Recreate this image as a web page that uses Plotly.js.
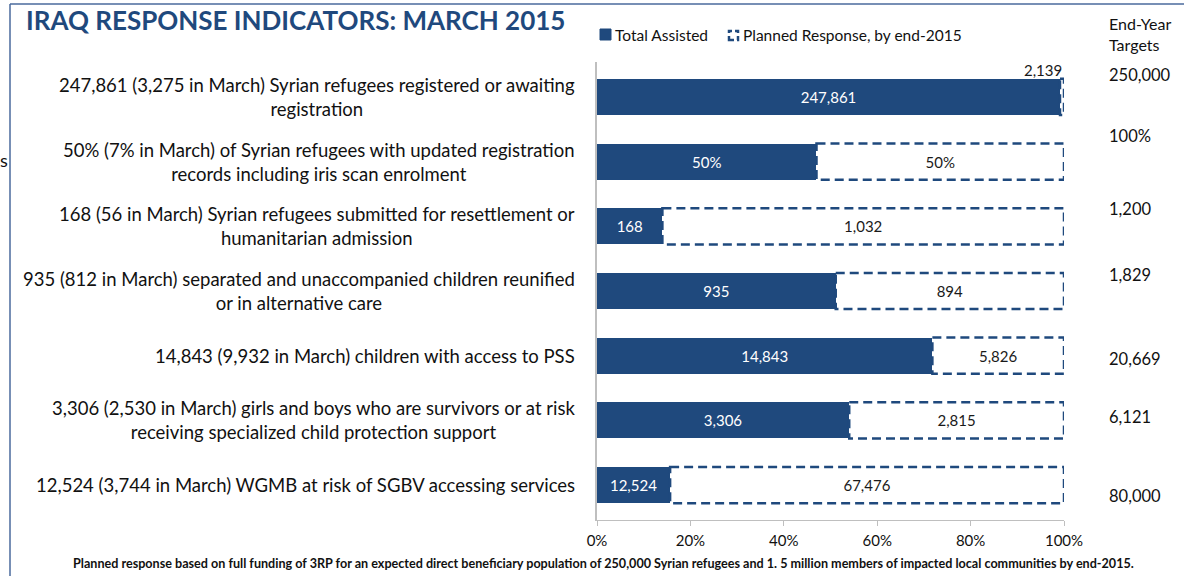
<!DOCTYPE html>
<html>
<head>
<meta charset="utf-8">
<script src="https://cdn.plot.ly/plotly-3.0.1.min.js"></script>
<style>html,body{margin:0;padding:0;background:#fff;}#chart{width:1184px;height:576px;}</style>
</head>
<body>
<div id="chart"></div>
<script>
// ---- data ----
var indicators = [
  "247,861 (3,275 in March) Syrian refugees registered or awaiting<br>registration",
  "50% (7% in March) of Syrian refugees with updated registration<br>records including iris scan enrolment",
  "168 (56 in March) Syrian refugees submitted for resettlement or<br>humanitarian admission",
  "935 (812 in March) separated and unaccompanied children reunified<br>or in alternative care",
  "14,843 (9,932 in March) children with access to PSS",
  "3,306 (2,530 in March) girls and boys who are survivors or at risk<br>receiving specialized child protection support",
  "12,524 (3,744 in March) WGMB at risk of SGBV accessing services"
];
var assistedVals = [247861, 47, 168, 935, 14843, 3306, 12524];
var remainingVals = [2139, 53, 1032, 894, 5826, 2815, 67476];
var assistedLabels = ["247,861", "50%", "168", "935", "14,843", "3,306", "12,524"];
var remainingLabels = ["2,139", "50%", "1,032", "894", "5,826", "2,815", "67,476"];
var targetLabels = ["250,000", "100%", "1,200", "1,829", "20,669", "6,121", "80,000"];
var xTickVals = [0, 20, 40, 60, 80, 100];
var xTickText = ["0%", "20%", "40%", "60%", "80%", "100%"];

// ---- styling / layout helpers ----
var BLUE = "#1f497d";
var FONT = "Lato, 'Liberation Sans', sans-serif";
var L = 597, R = 1064, T = 62, B = 520;
function px(x){ return (x - L) / (R - L); }
function py(y){ return (B - y) / (B - T); }

var idx = assistedVals.map(function(_, i){ return i; });
var pctA = assistedVals.map(function(a, i){ return 100 * a / (a + remainingVals[i]); });
var pctR = remainingVals.map(function(r, i){ return 100 * r / (assistedVals[i] + r); });
var halfW = 0.28;

var traces = [
  {
    type: "bar", orientation: "h", y: idx, x: pctA, width: 2 * halfW,
    marker: {color: BLUE, line: {width: 0}},
    text: assistedLabels, textposition: "inside", insidetextanchor: "middle",
    textfont: {family: FONT, size: 15, color: "#ffffff"},
    hoverinfo: "skip", showlegend: false
  },
  {
    type: "bar", orientation: "h", y: idx, x: pctR, width: 2 * halfW,
    marker: {color: "#ffffff", line: {width: 0}},
    text: remainingLabels.map(function(t, i){ return pctR[i] < 5 ? "" : t; }),
    textposition: "inside", insidetextanchor: "middle",
    textfont: {family: FONT, size: 15, color: "#1a1a1a"},
    hoverinfo: "skip", showlegend: false
  }
];

var shapes = [];
idx.forEach(function(i){
  shapes.push({
    type: "rect", xref: "x", yref: "y", layer: "above",
    x0: pctA[i], x1: 100, y0: i - halfW, y1: i + halfW,
    line: {color: BLUE, width: 2.5, dash: "9px,5px"}, fillcolor: "rgba(0,0,0,0)"
  });
});
// frame lines
shapes.push({type: "line", xref: "paper", yref: "paper", x0: px(10), x1: px(1184), y0: py(4), y1: py(4), line: {color: "#4a6a9c", width: 1.5}});
shapes.push({type: "line", xref: "paper", yref: "paper", x0: px(10), x1: px(10), y0: py(4), y1: py(576), line: {color: "#4a6a9c", width: 1.5}});
// legend icons
shapes.push({type: "rect", xref: "paper", yref: "paper", x0: px(600), x1: px(611), y0: py(40), y1: py(29), fillcolor: BLUE, line: {color: BLUE, width: 1}});
shapes.push({type: "rect", xref: "paper", yref: "paper", x0: px(729), x1: px(738), y0: py(40), y1: py(31), fillcolor: "#fff", line: {color: BLUE, width: 2.5, dash: "5px,3px"}});

var annotations = [];
idx.forEach(function(i){
  annotations.push({
    xref: "paper", yref: "y", x: px(577), y: i, xanchor: "right", yanchor: "middle",
    align: "center", text: indicators[i], showarrow: false,
    font: {family: FONT, size: 18.5, color: "#111"}
  });
});
// small outside label for tiny remaining segment
idx.forEach(function(i){
  if (pctR[i] < 5) {
    annotations.push({
      xref: "x", yref: "y", x: 100, y: i - halfW, xanchor: "right", yanchor: "bottom",
      text: remainingLabels[i], showarrow: false, yshift: -2,
      font: {family: FONT, size: 15, color: "#1a1a1a"}
    });
  }
});
// End-year targets
var targetShift = [22, 26, 17, 16, -3, 3, -11];
idx.forEach(function(i){
  annotations.push({
    xref: "paper", yref: "y", x: px(1107), y: i, xanchor: "left", yanchor: "middle",
    text: targetLabels[i], showarrow: false, yshift: targetShift[i],
    font: {family: FONT, size: 16.5, color: "#111"}
  });
});
annotations.push({
  xref: "paper", yref: "paper", x: px(1107), y: py(34), xanchor: "left", yanchor: "middle",
  align: "left", text: "End-Year<br>Targets", showarrow: false,
  font: {family: FONT, size: 16, color: "#111"}
});
// title
annotations.push({
  xref: "paper", yref: "paper", x: px(24), y: py(20), xanchor: "left", yanchor: "middle",
  text: "<b>IRAQ RESPONSE INDICATORS: MARCH 2015</b>", showarrow: false,
  font: {family: FONT, size: 26, color: "#1f497d"}
});
// legend text
annotations.push({
  xref: "paper", yref: "paper", x: px(613), y: py(35), xanchor: "left", yanchor: "middle",
  text: "Total Assisted", showarrow: false, font: {family: FONT, size: 15.5, color: "#111"}
});
annotations.push({
  xref: "paper", yref: "paper", x: px(741), y: py(35), xanchor: "left", yanchor: "middle",
  text: "Planned Response, by end-2015", showarrow: false, font: {family: FONT, size: 15.5, color: "#111"}
});
// cut-off fragment at left edge
annotations.push({
  xref: "paper", yref: "paper", x: px(-2), y: py(160), xanchor: "left", yanchor: "middle",
  text: "s", showarrow: false, font: {family: FONT, size: 18, color: "#111"}
});
// footnote
annotations.push({
  xref: "paper", yref: "paper", x: px(603), y: py(563), xanchor: "center", yanchor: "middle",
  text: "<b>Planned response based on full funding of 3RP for an expected direct beneficiary population of 250,000 Syrian refugees and 1. 5 million members of impacted local communities by end-2015.</b>",
  showarrow: false, font: {family: FONT, size: 12.6, color: "#111"}
});

var layout = {
  width: 1184, height: 576,
  margin: {l: L, r: 1184 - R, t: T, b: 576 - B, pad: 0},
  paper_bgcolor: "#fff", plot_bgcolor: "#fff",
  barmode: "stack", bargap: 0,
  showlegend: false,
  xaxis: {
    range: [0, 100], tickvals: xTickVals, ticktext: xTickText,
    showgrid: false, zeroline: false, showline: true, linecolor: "#bfbfbf", linewidth: 1,
    ticks: "outside", ticklen: 5, tickcolor: "#bfbfbf", ticklabelstandoff: 2,
    tickfont: {family: FONT, size: 15, color: "#111"}, fixedrange: true
  },
  yaxis: {
    range: [6.54, -0.54], showticklabels: false, showgrid: false, zeroline: false,
    showline: true, linecolor: "#bfbfbf", linewidth: 2, ticks: "", fixedrange: true
  },
  shapes: shapes, annotations: annotations,
  font: {family: FONT}
};

Plotly.newPlot("chart", traces, layout, {displayModeBar: false, staticPlot: true});
</script>
</body>
</html>
